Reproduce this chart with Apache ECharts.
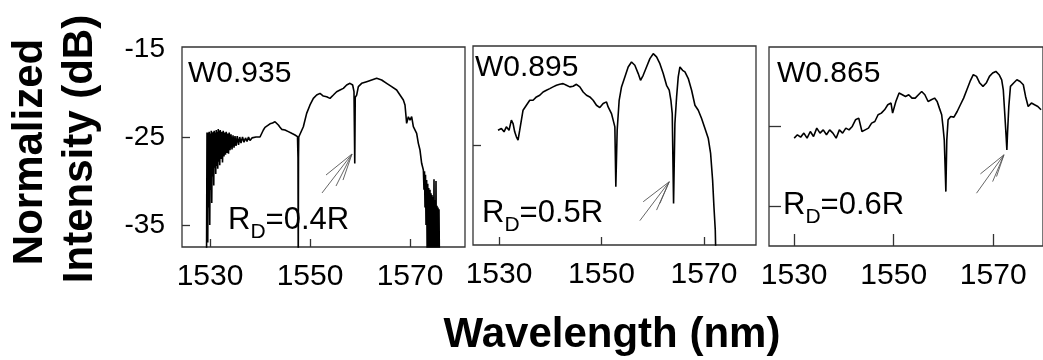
<!DOCTYPE html>
<html>
<head>
<meta charset="utf-8">
<script src="https://cdn.jsdelivr.net/npm/echarts@6/dist/echarts.min.js"></script>
<style>
  html, body { margin: 0; padding: 0; background: #fff; }
  #chart { width: 1043px; height: 360px; }
</style>
</head>
<body>
<div id="chart"></div>
<script>
const xTicks = [1530, 1550, 1570];
const yLabels = [-15, -25, -35];
const panelNames = ['W0.935', 'W0.895', 'W0.865'];
const rdValues = ['0.4R', '0.5R', '0.6R'];

// spectra, [wavelength nm, intensity dB]
const spec1 = [
  [1529.3, -40], [1529.4, -24.5], [1529.45, -24.3], [1529.55, -37], [1529.65, -24.5],
  [1529.75, -33], [1529.85, -24.4], [1529.95, -35], [1530.05, -24.6], [1530.15, -31],
  [1530.25, -24.3], [1530.35, -32.5], [1530.45, -24.5], [1530.55, -29.5], [1530.65, -24.4],
  [1530.75, -30.5], [1530.85, -24.3], [1530.95, -28.5], [1531.05, -24.5], [1531.15, -29.2],
  [1531.25, -24.2], [1531.35, -28.3], [1531.45, -24.4], [1531.55, -28.6], [1531.65, -24.1],
  [1531.75, -27.8], [1531.85, -24.3], [1531.95, -28.2], [1532.05, -24.2], [1532.2, -27.5],
  [1532.35, -24.4], [1532.5, -27.9], [1532.65, -24.3], [1532.8, -27.2], [1532.95, -24.5],
  [1533.1, -27.0], [1533.25, -24.4], [1533.4, -26.8], [1533.55, -24.6], [1533.7, -26.9],
  [1533.85, -24.5], [1534.0, -26.5], [1534.2, -24.7], [1534.4, -26.4], [1534.6, -24.8],
  [1534.8, -26.2], [1535.0, -24.9], [1535.2, -26.0], [1535.45, -24.9], [1535.7, -25.9],
  [1535.95, -25.0], [1536.2, -25.7], [1536.5, -25.0], [1536.8, -25.6], [1537.1, -25.1],
  [1537.4, -25.5], [1537.7, -25.0], [1538.0, -25.4], [1538.4, -25.1], [1538.8, -25.3],
  [1539.2, -25.0], [1539.6, -25.2], [1540.0, -25.0], [1540.67, -24.2], [1541.0, -23.9],
  [1541.33, -23.8], [1542.0, -23.5], [1542.5, -23.4], [1543.0, -23.26], [1543.3, -23.4],
  [1543.67, -23.64], [1544.0, -23.9], [1544.33, -24.13], [1545.0, -24.2], [1545.67, -24.39],
  [1546.33, -24.58], [1547.0, -24.77], [1547.5, -24.96], [1547.6, -27.4], [1547.65, -40],
  [1547.7, -27.3], [1547.75, -25.0], [1548.0, -24.96], [1548.67, -23.83], [1549.33, -22.31],
  [1550.0, -21.36], [1550.67, -20.61], [1551.33, -20.23], [1552.0, -20.04], [1552.67, -20.34],
  [1553.33, -20.42], [1554.0, -20.61], [1554.67, -20.23], [1555.33, -19.85], [1556.0, -19.66],
  [1556.67, -19.47], [1557.33, -19.09], [1558.0, -18.9], [1558.53, -19.09], [1558.8, -19.85],
  [1558.95, -28.0], [1559.05, -20.5], [1559.33, -20.23], [1559.67, -19.28], [1560.33, -18.9],
  [1561.33, -18.71], [1562.33, -18.52], [1563.33, -18.33], [1564.33, -18.52], [1565.33, -18.9],
  [1566.33, -19.28], [1567.33, -19.66], [1568.0, -20.23], [1568.67, -20.8], [1569.0, -21.36],
  [1569.33, -23.45], [1569.67, -22.7], [1570.0, -23.07], [1570.33, -22.69], [1570.67, -23.83],
  [1571.33, -24.58], [1571.67, -25.72], [1572.0, -26.48], [1572.33, -27.99], [1572.67, -28.75],
  [1572.8, -31], [1572.9, -28.9], [1573.0, -33], [1573.1, -29.3], [1573.2, -35],
  [1573.33, -29.9], [1573.45, -40], [1573.55, -30.3], [1573.65, -40], [1573.75, -30.8],
  [1573.85, -40], [1574.0, -31.0], [1574.1, -40], [1574.2, -31.4], [1574.3, -40],
  [1574.4, -31.6], [1574.5, -40], [1574.6, -31.8], [1574.7, -40], [1574.8, -29.8],
  [1574.9, -40], [1575.0, -32.2], [1575.1, -40], [1575.2, -30.0], [1575.3, -40],
  [1575.4, -32.8], [1575.5, -40], [1575.6, -33.0], [1575.7, -40], [1575.8, -33.2],
  [1575.9, -40], [1576.0, -40]
];

const spec2 = [
  [1529.80, -23.31], [1530.46, -23.12], [1530.98, -23.49], [1531.43, -22.94], [1531.95, -23.31],
  [1532.41, -22.20], [1532.74, -22.57], [1533.06, -23.49], [1533.39, -24.04], [1533.71, -24.41],
  [1534.04, -23.31], [1534.69, -21.10], [1535.34, -20.55], [1536.0, -20.0], [1536.65, -20.0],
  [1537.30, -19.63], [1537.95, -19.44], [1538.60, -19.08], [1539.25, -18.89], [1539.90, -18.71],
  [1540.55, -18.52], [1541.21, -18.34], [1541.86, -18.23], [1542.51, -18.16], [1543.16, -18.34],
  [1543.81, -18.52], [1544.46, -18.45], [1545.11, -18.23], [1545.77, -18.52], [1546.42, -19.08],
  [1547.07, -19.44], [1547.72, -19.63], [1548.37, -20.0], [1549.02, -20.55], [1549.67, -20.81],
  [1550.33, -20.36], [1550.98, -20.18], [1551.30, -20.73], [1551.95, -21.47], [1552.28, -22.20],
  [1552.61, -22.94], [1552.80, -29.56], [1553.06, -23.31], [1553.45, -20.0], [1553.91, -18.52],
  [1554.56, -17.42], [1555.21, -16.32], [1555.86, -15.77], [1556.51, -16.13], [1557.17, -17.05],
  [1557.62, -17.79], [1558.14, -17.24], [1558.79, -16.32], [1559.45, -15.40], [1560.10, -14.85],
  [1560.75, -15.21], [1561.40, -15.95], [1562.05, -17.05], [1562.70, -18.34], [1563.22, -18.89],
  [1563.55, -20.0], [1563.81, -21.47], [1564.07, -31.40], [1564.33, -22.57], [1564.66, -19.63],
  [1564.98, -17.42], [1565.31, -16.32], [1565.83, -16.69], [1566.29, -16.87], [1566.94, -17.60],
  [1567.59, -18.89], [1568.24, -20.55], [1568.89, -21.10], [1569.54, -22.02], [1570.20, -23.12],
  [1570.85, -24.23], [1571.30, -25.88], [1571.69, -28.83], [1571.95, -31.77], [1572.21, -34.35],
  [1572.35, -38]
];

const spec3 = [
  [1530, -26.46], [1530.65, -26.04], [1531.30, -26.33], [1531.95, -25.83], [1532.59, -26.46],
  [1533.24, -25.63], [1533.89, -26.25], [1534.54, -25.21], [1535.19, -25.83], [1535.84, -25.42],
  [1536.49, -26.04], [1537.13, -25.42], [1537.78, -25.83], [1538.43, -26.46], [1539.08, -25.42],
  [1539.73, -25.83], [1540.38, -25.21], [1541.02, -25.42], [1541.67, -25.0], [1542.32, -24.17],
  [1542.97, -23.96], [1543.62, -25.63], [1544.27, -25.42], [1544.92, -25.21], [1545.56, -24.58],
  [1546.21, -24.38], [1546.86, -23.54], [1547.51, -23.33], [1548.16, -22.92], [1548.81, -22.29],
  [1549.46, -22.08], [1549.78, -23.33], [1550.43, -21.88], [1551.08, -20.83], [1551.73, -21.04],
  [1552.37, -21.25], [1553.02, -21.04], [1553.67, -21.46], [1554.32, -21.46], [1554.97, -21.04],
  [1555.62, -20.63], [1556.26, -21.04], [1556.91, -21.88], [1557.56, -21.67], [1558.21, -21.46],
  [1558.73, -21.88], [1559.18, -22.71], [1559.64, -23.54], [1559.90, -25.0], [1560.16, -26.67],
  [1560.35, -30.42], [1560.48, -33.13], [1560.67, -26.67], [1560.93, -24.17], [1561.45, -23.75],
  [1562.10, -23.83], [1562.75, -23.13], [1563.40, -22.29], [1564.05, -21.46], [1564.70, -20.42],
  [1565.34, -19.38], [1565.99, -18.54], [1566.64, -18.75], [1567.29, -19.58], [1567.94, -20.0],
  [1568.59, -19.58], [1569.24, -18.75], [1569.88, -18.33], [1570.53, -18.13], [1571.18, -18.54],
  [1571.70, -19.17], [1572.02, -20.42], [1572.35, -23.75], [1572.61, -26.46], [1572.74, -27.92],
  [1572.87, -25.83], [1573.13, -22.5], [1573.46, -20.0], [1574.10, -19.58], [1574.75, -19.17],
  [1575.40, -19.38], [1576.04, -19.79], [1576.50, -21.25], [1577.02, -22.5], [1577.67, -22.08],
  [1578.31, -22.29], [1578.96, -22.5], [1579.61, -22.92]
];

// arrows pointing at the D-mode dip: tip + tail ends
const arrowTips = [[1558.4, -26.93], [1563.22, -29.01], [1572.15, -28.54]];
const arrowEnds = [
  [[1552.4, -31.36], [1553.2, -29.32], [1555.2, -30.57], [1556.6, -29.89]],
  [[1557.49, -33.31], [1558.14, -31.22], [1560.75, -32.14], [1561.40, -31.40]],
  [[1566.64, -33.33], [1567.42, -30.92], [1569.88, -31.88], [1570.66, -31.25]]
];

const FONT = '"Liberation Sans", Arial, sans-serif';

const grids = [
  { left: 182, top: 47, width: 283, height: 200 },
  { left: 473, top: 46, width: 283, height: 199 },
  { left: 769, top: 47, width: 283, height: 199 }
];
const xRanges = [[1524.4, 1581], [1524.92, 1580.16], [1524.94, 1580]];
const yRanges = [[-37.5, -14.77], [-36, -14], [-39.92, -15.08]];
const yTickVals = [[-25, -35], [-25], [-25, -35]];
const tickLen = [8, 8, 12];

const chart = echarts.init(document.getElementById('chart'));

const option = {
  animation: false,
  backgroundColor: '#fff',
  grid: grids.map(g => Object.assign({
    show: true, borderColor: '#333', borderWidth: 1.3, backgroundColor: 'transparent'
  }, g)),
  xAxis: grids.map((g, i) => ({
    type: 'value',
    gridIndex: i,
    min: xRanges[i][0],
    max: xRanges[i][1],
    axisLine: { show: false },
    splitLine: { show: false },
    axisTick: { inside: true, length: tickLen[i], customValues: xTicks, lineStyle: { color: '#333', width: 1.3 } },
    axisLabel: {
      customValues: xTicks, color: '#000', fontSize: 30, fontFamily: FONT, margin: 15,
      formatter: v => String(v)
    }
  })),
  yAxis: grids.map((g, i) => ({
    type: 'value',
    gridIndex: i,
    min: yRanges[i][0],
    max: yRanges[i][1],
    axisLine: { show: false },
    splitLine: { show: false },
    axisTick: { inside: true, length: tickLen[i], customValues: yTickVals[i], lineStyle: { color: '#333', width: 1.3 } },
    axisLabel: i === 0
      ? { customValues: yLabels, color: '#000', fontSize: 28, fontFamily: FONT, margin: 17, formatter: v => String(v) }
      : { show: false }
  })),
  series: [spec1, spec2, spec3].map((spec, i) => ({
    type: 'line',
    xAxisIndex: i,
    yAxisIndex: i,
    data: spec,
    symbol: 'none',
    clip: true,
    lineStyle: { color: '#000', width: 1.6 },
    markLine: {
      silent: true,
      symbol: 'none',
      label: { show: false },
      lineStyle: { color: '#555', width: 0.9, type: 'solid' },
      data: arrowEnds[i].map(e => [{ coord: arrowTips[i] }, { coord: e }])
    }
  })),
  graphic: [
    { type: 'text', x: 30, y: 152, rotation: Math.PI / 2,
      style: { text: 'Normalized', font: 'bold 42px ' + FONT, fill: '#000', align: 'center', verticalAlign: 'middle' } },
    { type: 'text', x: 80, y: 149, rotation: Math.PI / 2,
      style: { text: 'Intensity (dB)', font: 'bold 42px ' + FONT, fill: '#000', align: 'center', verticalAlign: 'middle' } },
    { type: 'text', x: 612, y: 335,
      style: { text: 'Wavelength (nm)', font: 'bold 42px ' + FONT, fill: '#000', align: 'center', verticalAlign: 'middle' } }
  ]
};

// panel name labels and R_D labels
const namePos = [[188, 74], [475, 68], [777, 74]];
const rdPos = [[228, 205], [482, 198], [783, 190]];
panelNames.forEach((name, i) => {
  option.graphic.push({
    type: 'text', x: namePos[i][0], y: namePos[i][1],
    style: { text: name, font: '30px ' + FONT, fill: '#000', align: 'left', verticalAlign: 'middle' }
  });
  option.graphic.push({
    type: 'text', x: rdPos[i][0], y: rdPos[i][1],
    style: {
      text: '{r|R}{d|D}{r|=' + rdValues[i] + '}',
      align: 'left', verticalAlign: 'top',
      rich: {
        r: { fontSize: 31, fontFamily: FONT, fill: '#000', lineHeight: 31, verticalAlign: 'top' },
        d: { fontSize: 21, fontFamily: FONT, fill: '#000', lineHeight: 21, verticalAlign: 'top', padding: [17, 0, 0, 0] }
      }
    }
  });
});

chart.setOption(option);
</script>
</body>
</html>
